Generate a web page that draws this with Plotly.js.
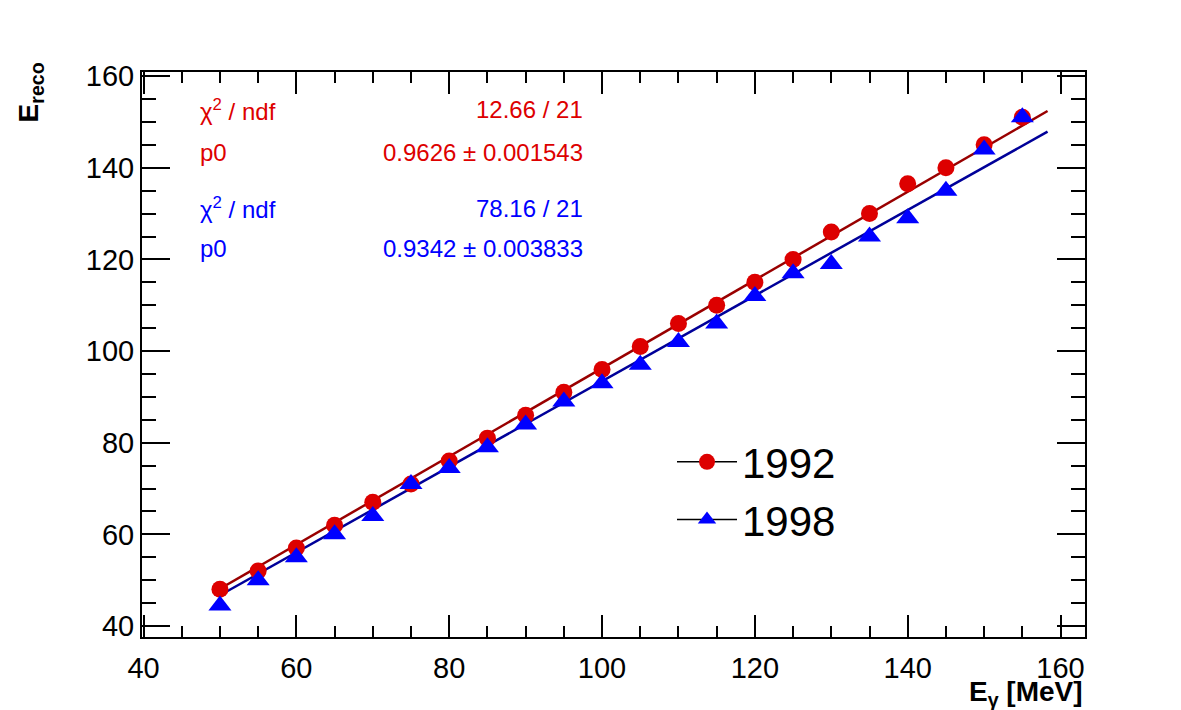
<!DOCTYPE html>
<html><head><meta charset="utf-8">
<script src="https://cdn.plot.ly/plotly-3.0.1.min.js"></script>
<style>body{margin:0;background:#fff}#p{width:1181px;height:710px}</style>
</head><body><div id="p"></div>
<script>
const egamma = [50,55,60,65,70,75,80,85,90,95,100,105,110,115,120,125,130,135,140,145,150,155];
const ereco1992 = [48,52,57,62,67,71,76,81,86,91,96,101,106,110,115,120,126,130,136.5,140,145,151];
const ereco1998 = [44.5,50,55,60,64,71,74.5,79,84,89,93,97,102,106,112,117,119,125,129,135,144,151];
const fitRange = [50,158.3];
const p0_1992 = 0.9626, p0_1998 = 0.9342;
const F = "Liberation Sans, Arial, sans-serif";
const traces = [
 {x:fitRange, y:fitRange.map(v=>v*p0_1992), mode:'lines', line:{color:'#990000',width:2.5}, showlegend:false},
 {x:fitRange, y:fitRange.map(v=>v*p0_1998), mode:'lines', line:{color:'#000099',width:2.5}, showlegend:false},
 {x:egamma, y:ereco1992, mode:'markers', marker:{symbol:'circle',size:17,color:'#dd0000'}, showlegend:false},
 {x:egamma, y:ereco1998, mode:'markers', marker:{symbol:'triangle-up',size:20,color:'#0000ff'}, showlegend:false},
 {x:[null], y:[null], name:'1992', mode:'lines+markers', line:{color:'#000',width:1.5}, marker:{symbol:'circle',size:17,color:'#dd0000'}},
 {x:[null], y:[null], name:'1998', mode:'lines+markers', line:{color:'#000',width:1.5}, marker:{symbol:'triangle-up',size:20,color:'#0000ff'}}
];
function ann(x,y,t,c,anchor){return {xref:'paper',yref:'paper',x:x,y:y,text:t,showarrow:false,xanchor:anchor,yanchor:'middle',font:{family:F,size:24,color:c}};}
const W=943,H=565, L=142, T=72;
const px=v=>(v-L)/W, py=v=>1-(v-T)/H;
const axBase = {showgrid:false, zeroline:false, showline:true, linecolor:'#000', linewidth:2, mirror:'ticks', ticks:'inside', tickcolor:'#000', tickwidth:1.5, tickfont:{family:F,size:29,color:'#000'}, dtick:20};
const layout = {
 width:1181,height:710, margin:{l:142,r:96,t:72,b:73}, plot_bgcolor:'#fff', paper_bgcolor:'#fff',
 xaxis:Object.assign({},axBase,{range:[39.8,163.2], ticklen:22, tick0:40, ticklabelstandoff:4, minor:{dtick:5,ticks:'inside',ticklen:11,tickcolor:'#000'}, title:{text:''}}),
 yaxis:Object.assign({},axBase,{range:[37.6,160.9], ticklen:28, tick0:40, minor:{dtick:5,ticks:'inside',ticklen:14,tickcolor:'#000'}, title:{text:''}}),
 legend:{x:px(672),y:py(428),xanchor:'left',yanchor:'top',font:{family:F,size:42,color:'#000'},bgcolor:'rgba(0,0,0,0)',itemwidth:60,tracegroupgap:30},
 annotations:[
  ann(px(198),py(110),'χ<sup>2</sup> / ndf','#dd0000','left'),
  ann(px(585),py(110),'12.66 / 21','#dd0000','right'),
  ann(px(198),py(152),'p0','#dd0000','left'),
  ann(px(585),py(152),'0.9626 ± 0.001543','#dd0000','right'),
  ann(px(198),py(208),'χ<sup>2</sup> / ndf','#0000ff','left'),
  ann(px(585),py(208),'78.16 / 21','#0000ff','right'),
  ann(px(198),py(248),'p0','#0000ff','left'),
  ann(px(585),py(248),'0.9342 ± 0.003833','#0000ff','right'),
  {xref:'paper',yref:'paper',x:-0.118,y:1.02,text:'<b>E<sub>reco</sub></b>',textangle:-90,showarrow:false,xanchor:'center',yanchor:'top',font:{family:F,size:28,color:'#000'}},
  {xref:'paper',yref:'paper',x:1.0,y:-0.065,text:'<b>E<sub>γ</sub> [MeV]</b>',showarrow:false,xanchor:'right',yanchor:'top',font:{family:F,size:28,color:'#000'}}
 ]
};
Plotly.newPlot('p',traces,layout,{displayModeBar:false});
</script></body></html>
